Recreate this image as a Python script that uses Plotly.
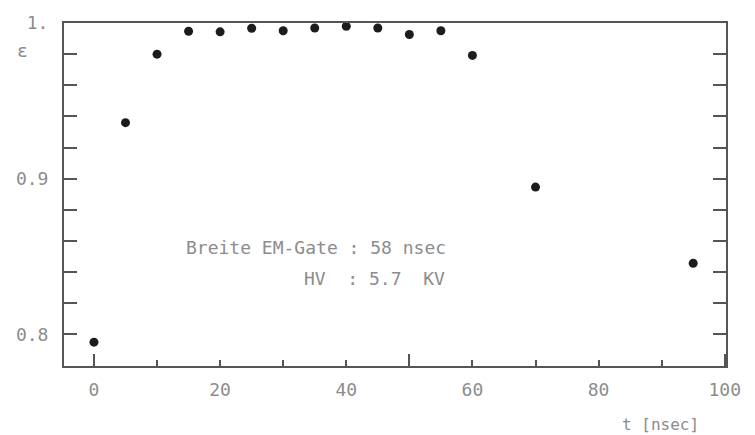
import plotly.graph_objects as go

# Data
t_ns = [0, 5, 10, 15, 20, 25, 30, 35, 40, 45, 50, 55, 60, 70, 95]
eff = [0.795, 0.936, 0.980, 0.9947, 0.9943, 0.9966, 0.995, 0.9968, 0.9979,
       0.9968, 0.9926, 0.995, 0.9792, 0.8946, 0.8457]

x_tickvals = [0, 20, 40, 60, 80, 100]
x_ticktext = ["0", "20", "40", "60", "80", "100"]
y_tickvals = [0.8, 0.9, 1.0]
y_ticktext = ["0.8", "0.9", "1."]
x_long_ticks = [0, 50, 100]

FONT = "DejaVu Sans Mono"
TXT = "#8c8c8c"
AX = "#555555"

fig = go.Figure()
fig.add_trace(go.Scatter(
    x=t_ns, y=eff, mode="markers",
    marker=dict(size=9, color="#1c1c1c"),
    cliponaxis=False, showlegend=False,
))
# invisible trace to activate the overlay axis
fig.add_trace(go.Scatter(x=[t_ns[0]], y=[eff[0]], xaxis="x2", mode="markers",
                         marker=dict(opacity=0), showlegend=False, hoverinfo="skip"))

xr = [-4.75, 100.2]
yr = [0.7797, 1.0]

fig.update_layout(
    width=755, height=435,
    margin=dict(l=64, r=29, t=19, b=69),
    paper_bgcolor="white", plot_bgcolor="white",
    font=dict(family=FONT, size=18, color=TXT),
    xaxis=dict(
        range=xr, showgrid=False, zeroline=False,
        showline=True, linecolor=AX, linewidth=2, mirror=True,
        ticks="inside", ticklen=6, tickwidth=1.5, tickcolor=AX,
        tickvals=x_tickvals, ticktext=x_ticktext,
        minor=dict(dtick=10, tick0=0, ticks="inside", ticklen=6, tickwidth=1.5, tickcolor=AX),
        ticklabelstandoff=6,
        tickfont=dict(family=FONT, size=18, color=TXT),
    ),
    xaxis2=dict(
        range=xr, overlaying="x", side="bottom", showgrid=False, zeroline=False,
        showline=False, ticks="inside", ticklen=12, tickwidth=1.5, tickcolor=AX,
        tickvals=x_long_ticks, showticklabels=False,
    ),
    yaxis=dict(
        range=yr, showgrid=False, zeroline=False,
        showline=True, linecolor=AX, linewidth=2, mirror="allticks",
        ticks="inside", ticklen=13, tickwidth=1.5, tickcolor=AX,
        tickvals=y_tickvals, ticktext=y_ticktext,
        minor=dict(dtick=0.02, tick0=0.8, ticks="inside", ticklen=7, tickwidth=1.5, tickcolor=AX),
        ticklabelstandoff=10,
        tickfont=dict(family=FONT, size=18, color=TXT),
    ),
    annotations=[
        dict(text="ε", xref="paper", yref="paper", x=-0.062, y=0.92,
             showarrow=False, xanchor="center", yanchor="middle",
             font=dict(family=FONT, size=18, color=TXT)),
        dict(text="t [nsec]", xref="paper", yref="paper", x=0.84, y=-0.17,
             showarrow=False, xanchor="left", yanchor="middle",
             font=dict(family=FONT, size=16, color=TXT)),
        dict(text="Breite EM-Gate : 58 nsec", xref="x", yref="y", x=14.3, y=0.856,
             showarrow=False, xanchor="left", yanchor="middle",
             font=dict(family=FONT, size=18, color=TXT)),
        dict(text="HV  : 5.7  KV", xref="x", yref="y", x=33.0, y=0.8357,
             showarrow=False, xanchor="left", yanchor="middle",
             font=dict(family=FONT, size=18, color=TXT)),
    ],
)

fig.write_html(
    "out.html",
    config={"displayModeBar": False},
    post_script="document.body.style.margin='0px';document.body.style.overflow='hidden';",
)
